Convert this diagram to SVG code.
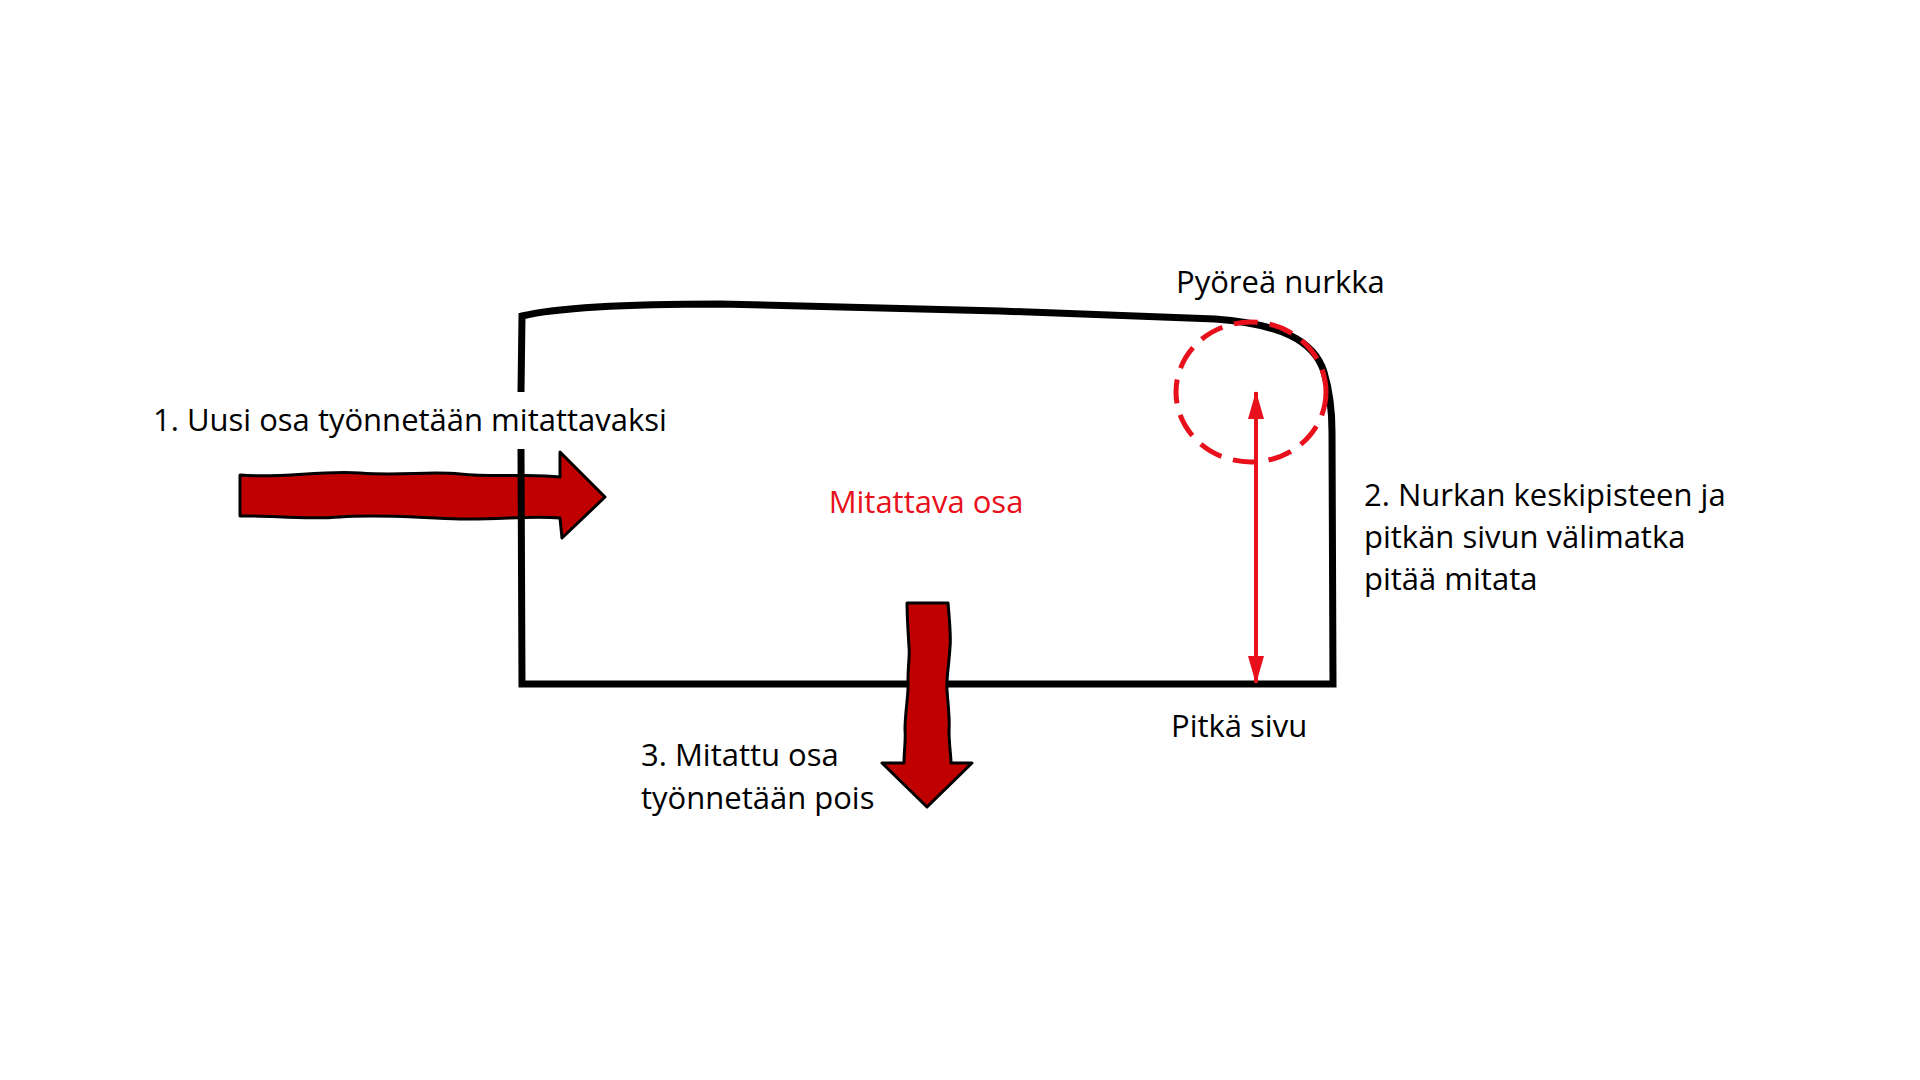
<svg xmlns="http://www.w3.org/2000/svg" width="1920" height="1080" viewBox="0 0 1920 1080">
<style>
.lbl{font-family:"Open Sans","Liberation Sans",sans-serif;font-size:31px;fill:#000}
.red{fill:#E8101A}
.outline{fill:none;stroke:#000;stroke-width:7;stroke-linejoin:miter}
.fat{fill:#C00000;stroke:#000;stroke-width:3;stroke-linejoin:round}
.dim{stroke:#E8101A;stroke-width:4;fill:none}
</style>
<defs>
<marker id="ah" viewBox="0 0 28 16" refX="27" refY="8" markerWidth="28" markerHeight="16" markerUnits="userSpaceOnUse" orient="auto-start-reverse">
<path d="M0 0 L28 8 L0 16 Z" fill="#E8101A"/>
</marker>
</defs>
<rect width="1920" height="1080" fill="#fff"/>

<g id="push-in-arrow">
<path class="fat" d="M240 475 C280 479 320 470 360 473 C400 476 430 471 460 474 C500 478 530 473 560 477 L560 452 L605 497 L562 538 L560 518 C530 515 500 520 460 519 C420 518 380 514 340 517 C300 520 270 515 240 516 Z"/>
</g>

<g id="part">
<path class="outline" d="M521 392 L522 316 C560 307 640 304 720 304 L1000 311 L1215 319 C1280 324 1314 340 1324 372 C1330 392 1332 415 1332 432 L1333 684 L522 684 L521 449"/>
</g>

<g id="push-out-arrow">
<path class="fat" d="M907 603 L948 603 C950 625 951 640 950 647 C949 665 946 680 947 690 C948 705 950 720 949 730 C949 745 951 755 951 763 L972 763 L927 807 L882 763 L904 763 C904 750 906 740 905 730 C905 710 909 695 908 680 C908 665 910 655 909 647 C908 630 907 615 907 603 Z"/>
</g>

<g id="corner-circle">
<ellipse cx="1251" cy="392" rx="75" ry="70" fill="none" stroke="#E8101A" stroke-width="5" stroke-dasharray="24 12"/>
</g>

<g id="connectors">
<line class="dim" x1="1256" y1="392" x2="1256" y2="683" marker-start="url(#ah)" marker-end="url(#ah)"/>
</g>

<g id="labels">
<text class="lbl" x="153" y="431">1. Uusi osa työnnetään mitattavaksi</text>
<text class="lbl red" x="926" y="513" text-anchor="middle">Mitattava osa</text>
<text class="lbl" x="1176" y="293">Pyöreä nurkka</text>
<text class="lbl" x="1364" y="506">2. Nurkan keskipisteen ja</text>
<text class="lbl" x="1364" y="548">pitkän sivun välimatka</text>
<text class="lbl" x="1364" y="590">pitää mitata</text>
<text class="lbl" x="1171" y="737">Pitkä sivu</text>
<text class="lbl" x="641" y="766">3. Mitattu osa</text>
<text class="lbl" x="641" y="809">työnnetään pois</text>
</g>
</svg>
